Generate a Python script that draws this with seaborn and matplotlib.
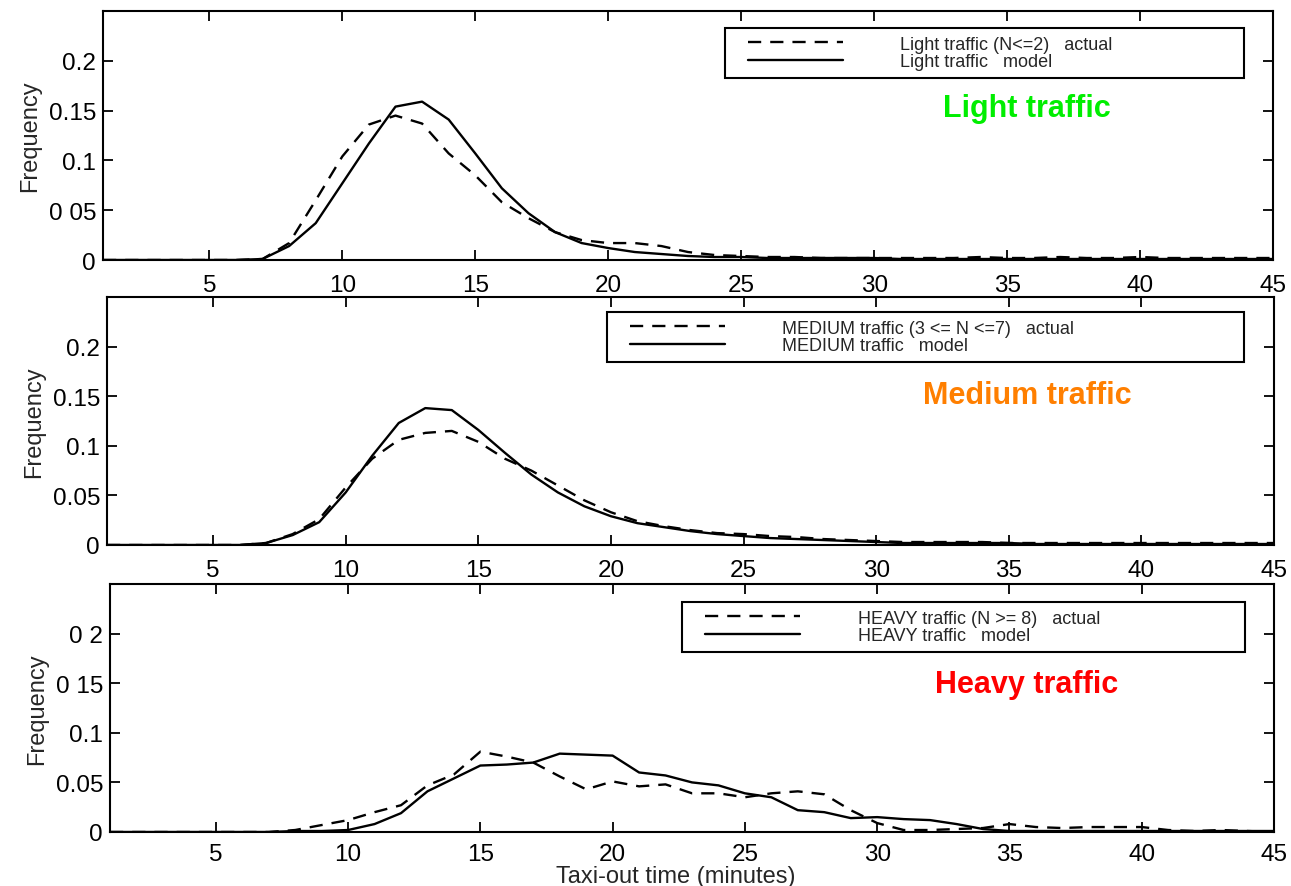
import matplotlib
matplotlib.use("Agg")
import matplotlib.pyplot as plt
import seaborn as sns
import pandas as pd
from matplotlib.lines import Line2D
from matplotlib.legend_handler import HandlerLine2D

# ---------------- data ----------------
minutes = list(range(1, 46))

light_actual = [0, 0, 0, 0, 0, 0, 0.001, 0.017, 0.060, 0.104, 0.136, 0.145, 0.137, 0.107, 0.085,
                0.058, 0.042, 0.028, 0.020, 0.017, 0.017, 0.014, 0.008, 0.005, 0.004, 0.003, 0.003,
                0.002, 0.002, 0.002, 0.002, 0.002, 0.002, 0.003, 0.002, 0.002, 0.003, 0.002, 0.002,
                0.003, 0.002, 0.002, 0.002, 0.002, 0.002]
light_model = [0, 0, 0, 0, 0, 0, 0.001, 0.014, 0.037, 0.077, 0.117, 0.154, 0.159, 0.141, 0.107,
               0.072, 0.047, 0.028, 0.017, 0.012, 0.008, 0.006, 0.004, 0.003, 0.003, 0.002, 0.002,
               0.002, 0.002, 0.002, 0.001, 0.001, 0.001, 0.001, 0.001, 0.001, 0.001, 0.001, 0.001,
               0.001, 0.001, 0.001, 0.001, 0.001, 0.001]

medium_actual = [0, 0, 0, 0, 0, 0, 0.002, 0.011, 0.026, 0.058, 0.087, 0.106, 0.113, 0.115, 0.104,
                 0.087, 0.075, 0.060, 0.045, 0.033, 0.024, 0.019, 0.015, 0.012, 0.011, 0.009, 0.008,
                 0.006, 0.005, 0.004, 0.003, 0.003, 0.003, 0.003, 0.002, 0.002, 0.002, 0.002, 0.002,
                 0.002, 0.002, 0.002, 0.002, 0.002, 0.002]
medium_model = [0, 0, 0, 0, 0, 0, 0.002, 0.010, 0.023, 0.053, 0.090, 0.123, 0.138, 0.136, 0.116,
                0.093, 0.071, 0.053, 0.039, 0.029, 0.022, 0.018, 0.014, 0.011, 0.009, 0.007, 0.006,
                0.005, 0.004, 0.003, 0.002, 0.002, 0.002, 0.002, 0.002, 0.001, 0.001, 0.001, 0.001,
                0.001, 0.001, 0.001, 0.001, 0.001, 0.001]

heavy_actual = [0, 0, 0, 0, 0, 0, 0, 0.002, 0.007, 0.012, 0.020, 0.027, 0.047, 0.058, 0.081,
                0.076, 0.070, 0.056, 0.043, 0.051, 0.046, 0.048, 0.039, 0.039, 0.035, 0.039, 0.041,
                0.038, 0.022, 0.009, 0.002, 0.002, 0.003, 0.004, 0.008, 0.005, 0.004, 0.005, 0.005,
                0.005, 0.002, 0.001, 0.002, 0.001, 0.0]
heavy_model = [0, 0, 0, 0, 0, 0, 0, 0.001, 0.001, 0.002, 0.008, 0.019, 0.041, 0.054, 0.067,
               0.068, 0.070, 0.079, 0.078, 0.077, 0.060, 0.057, 0.050, 0.047, 0.039, 0.035, 0.022,
               0.020, 0.014, 0.015, 0.013, 0.012, 0.008, 0.003, 0.001, 0.001, 0.001, 0.001, 0.001,
               0.001, 0.001, 0.001, 0.001, 0.001, 0.001]

x_ticks = [5, 10, 15, 20, 25, 30, 35, 40, 45]
y_ticks = [0, 0.05, 0.1, 0.15, 0.2]
y_labels_light = ["0", "0 05", "0.1", "0.15", "0.2"]
y_labels_medium = ["0", "0.05", "0.1", "0.15", "0.2"]
y_labels_heavy = ["0", "0.05", "0.1", "0 15", "0 2"]

legend_light = ["Light traffic (N<=2)   actual", "Light traffic   model"]
legend_medium = ["MEDIUM traffic (3 <= N <=7)   actual", "MEDIUM traffic   model"]
legend_heavy = ["HEAVY traffic (N >= 8)   actual", "HEAVY traffic   model"]
titles = ["Light traffic", "Medium traffic", "Heavy traffic"]
title_colors = ["#00ee00", "#ff7f00", "#ff0000"]

# ---------------- style ----------------
sns.set_style("ticks")
plt.rcParams["font.family"] = ["Liberation Sans", "DejaVu Sans"]
plt.rcParams["lines.scale_dashes"] = False

W, H = 1291, 887
fig = plt.figure(figsize=(W / 100, H / 100), dpi=100)

# axes boxes in pixel coords: left, right, top, bottom
boxes = [(103, 1273, 12, 261), (107, 1274, 298, 546), (110, 1274, 585, 833)]
# legend boxes in pixel coords: left, right, top, bottom
leg_boxes = [(725, 1244, 29, 78), (607, 1244, 313, 363), (682, 1245, 603, 654)]
title_pos = [(1027, 117), (1027, 404), (1027, 693)]

panels = [
    (light_actual, light_model, y_labels_light, legend_light),
    (medium_actual, medium_model, y_labels_medium, legend_medium),
    (heavy_actual, heavy_model, y_labels_heavy, legend_heavy),
]

dash = (0, (9.5, 6.5))
for i, (act, mod, ylabs, leglabs) in enumerate(panels):
    l, r, t, b = boxes[i]
    ax = fig.add_axes([l / W, 1 - b / H, (r - l) / W, (b - t) / H])
    df = pd.DataFrame({"minutes": minutes, "actual": act, "model": mod})
    sns.lineplot(data=df, x="minutes", y="actual", ax=ax, color="black", lw=1.7,
                 linestyle=dash, label=leglabs[0], legend=False)
    sns.lineplot(data=df, x="minutes", y="model", ax=ax, color="black", lw=1.7,
                 linestyle="-", label=leglabs[1], legend=False)
    ax.set_xlim(1, 45)
    ax.set_ylim(0, 0.25)
    ax.set_xticks(x_ticks)
    ax.set_xticklabels([str(v) for v in x_ticks])
    ax.set_yticks(y_ticks)
    ax.set_yticklabels(ylabs)
    ax.tick_params(direction="in", top=True, right=True, length=7.5, width=1.3,
                   labelsize=17.5, colors="black")
    ax.tick_params(axis="x", pad=10 if i < 2 else 8)
    ax.tick_params(axis="y", pad=5)
    for s in ax.spines.values():
        s.set_visible(True)
        s.set_linewidth(1.5)
        s.set_color("black")
    ax.set_xlabel("")
    ax.set_ylabel("Frequency", fontsize=17, labelpad=5)

    # legend
    ll, lr, lt, lb = leg_boxes[i]
    x0 = (ll - l) / (r - l)
    w = (lr - ll) / (r - l)
    ytop = (b - lt) / (b - t)
    ybot = (b - lb) / (b - t)
    handles = ax.get_lines()[:2]
    leg = ax.legend(handles=handles, labels=leglabs, loc="upper left",
                    bbox_to_anchor=(x0, ybot, w, ytop - ybot), mode="expand",
                    borderaxespad=0, fontsize=13, frameon=True, fancybox=False,
                    framealpha=1, edgecolor="black", borderpad=0.42,
                    handlelength=6.1, handletextpad=3.2, labelspacing=0.02,
                    handler_map={Line2D: HandlerLine2D(xpad=0.86)})
    leg.get_frame().set_linewidth(1.5)

    tx, ty = title_pos[i]
    fig.text(tx / W, 1 - ty / H, titles[i], color=title_colors[i], fontsize=22,
             fontweight="bold", ha="center", va="baseline")

    if i == 2:
        ax.set_xlabel("Taxi-out time (minutes)", fontsize=17)
        ax.xaxis.set_label_coords((676 - l) / (r - l), -(866 - b) / (b - t))
        ax.xaxis.label.set_va("top")

fig.savefig("out.png", dpi=100)
